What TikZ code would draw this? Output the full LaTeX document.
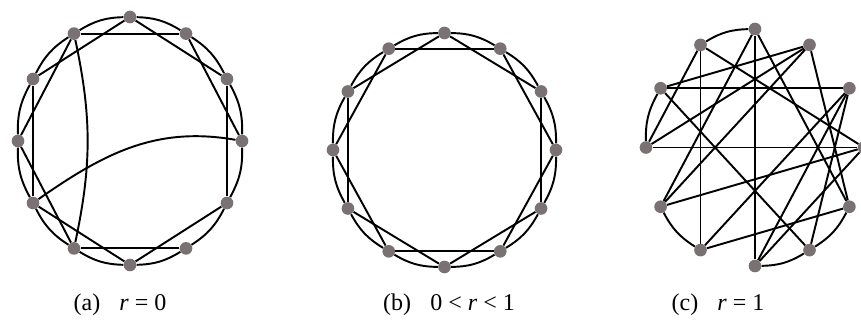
\documentclass[tikz,border=0pt]{standalone}
\usepackage{fontspec}
\setmainfont{Liberation Serif}
\usetikzlibrary{backgrounds}
\definecolor{vgray}{RGB}{122,114,114}
\begin{document}
\begin{tikzpicture}[x=0.75pt,y=0.75pt,
  vtx/.style={circle,fill=vgray,inner sep=0pt,minimum size=9.5pt},
  edge/.style={line width=1.45pt},
  caption/.style={font=\fontsize{18}{20}\selectfont}]
\useasboundingbox (0,0) rectangle (861,331);
\begin{scope}[shift={(130,190)}]
\foreach \i in {0,...,11} \node[vtx] (a\i) at (\i*30:112 and 124) {};
\end{scope}
\begin{scope}[shift={(444.5,181)}]
\foreach \i in {0,...,11} \node[vtx] (b\i) at (\i*30:111.5 and 117) {};
\end{scope}
\begin{scope}[shift={(755,183.5)}]
\foreach \i in {0,...,11} \node[vtx] (c\i) at (\i*30:109 and 118.5) {};
\end{scope}
\begin{pgfonlayer}{background}
\foreach \i in {0,...,11} {
  \pgfmathtruncatemacro\j{mod(\i+1,12)}
  \pgfmathtruncatemacro\k{mod(\i+2,12)}
  \draw[edge] (a\i) to[bend right=15] (a\j);
  \ifnum\i=10 \else \draw[edge] (a\i) -- (a\k); \fi
  \draw[edge] (b\i) to[bend right=15] (b\j);
  \draw[edge] (b\i) -- (b\k);
}
\draw[edge] (a4) to[out=-78,in=78] (a8);
\draw[edge] (a0) to[out=170,in=35] (a7);
\foreach \p/\q in {3/4,5/6,7/8,9/10,10/11} \draw[edge] (c\p) to[bend right=15] (c\q);
\foreach \p/\q in {3/9,3/7,3/11,4/8,4/6,4/0,2/5,2/6,2/7,2/11,5/1,5/10,6/0,7/0,8/11,10/1,9/1,9/0,8/1}
  \draw[edge] (c\p) -- (c\q);
\end{pgfonlayer}
\node[caption] (capa) at (120,26) {(a)\hspace{0.8em}\textit{r} = 0};
\node[caption] (capb) at (449,26) {(b)\hspace{0.8em}0 < \textit{r} < 1};
\node[caption] (capc) at (718,26) {(c)\hspace{0.8em}\textit{r} = 1};
\end{tikzpicture}
\end{document}
